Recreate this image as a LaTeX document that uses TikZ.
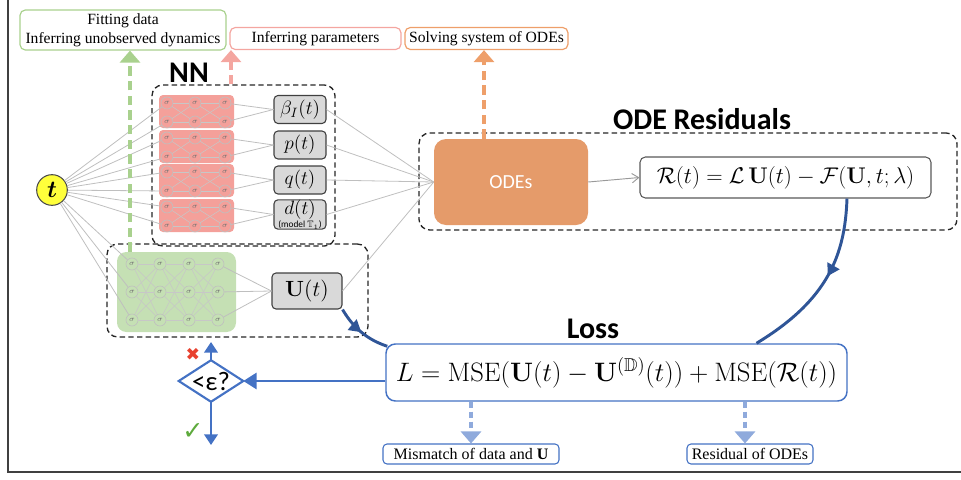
\RequirePackage{fix-cm}
\documentclass[tikz,border=0pt]{standalone}
\usepackage{amsmath,amssymb}
\usepackage[no-math]{fontspec}
\setmainfont{Liberation Serif}
\newfontfamily\cali{Carlito}
\newfontfamily\djv{DejaVu Sans}
\usetikzlibrary{arrows.meta,decorations.markings,calc}
\definecolor{tgreen}{HTML}{A9D18E}
\definecolor{gfill}{HTML}{C5E0B4}
\definecolor{rfill}{HTML}{F4A09A}
\definecolor{tred}{HTML}{F4A6A0}
\definecolor{ofill}{HTML}{E59B6A}
\definecolor{tora}{HTML}{EE9F6A}
\definecolor{bl}{HTML}{4472C4}
\definecolor{dbl}{HTML}{2F5597}
\definecolor{lbl}{HTML}{8FAADC}
\definecolor{gbox}{HTML}{D9D9D9}
\definecolor{ylw}{HTML}{FFFF3B}
\definecolor{okgreen}{HTML}{5DAA3C}
\definecolor{nored}{HTML}{E8412F}
\begin{document}
\begin{tikzpicture}[x=0.75pt,y=-0.75pt,
  neur/.style={circle,draw=black!25,line width=0.45pt,minimum size=9pt,inner sep=0pt,text=black!55,font=\fontsize{5.5}{5.5}\selectfont},
  syn/.style={draw=black!22,line width=0.4pt},
  wire/.style={draw=black!25,line width=0.6pt},
  outbox/.style={draw=black!75,fill=gbox,rounded corners=3pt,line width=0.8pt,inner sep=0pt,minimum width=39pt,minimum height=21pt,font=\fontsize{14.5}{15}\selectfont},
  topbox/.style={rounded corners=4pt,line width=0.9pt,fill=white,inner sep=0pt,align=center,minimum height=16.5pt,font=\fontsize{11.7}{14}\selectfont},
  grp/.style={draw=black!85,dash pattern=on 4pt off 2.5pt,line width=1pt,rounded corners=8pt,inner sep=0pt},
  fatdash/.style={line width=3pt,dash pattern=on 7pt off 4pt},
  bigtip/.style={-{Triangle[width=15pt,length=9pt]}},
  ttl/.style={font=\cali\bfseries\fontsize{22.5}{24}\selectfont},
  bluearr/.style={draw=bl,line width=2.2pt,-{Triangle[width=10pt,length=8pt]}},
  curv/.style={draw=dbl,line width=2.2pt,postaction={decorate},decoration={markings,mark=at position #1 with {\arrow{Triangle[width=10pt,length=9pt]}}}},
  lbarr/.style={draw=lbl,line width=2.6pt,dash pattern=on 4.5pt off 3pt,-{Triangle[width=15pt,length=9pt]}},
  note/.style={draw=bl,line width=0.8pt,rounded corners=3pt,fill=white,inner sep=0pt,minimum height=15pt,font=\fontsize{12}{14}\selectfont}
]
\useasboundingbox (0,0) rectangle (961,479);
% frame
\draw[black!75,line width=1.5pt] (8,-2) -- (8,472) -- (963,472);

% top boxes
\node[topbox,draw=tgreen,minimum width=154.5pt,minimum height=30pt] (tg) at (123,30) {Fitting data\\Inferring unobserved dynamics};
\node[topbox,draw=tred,minimum width=128.25pt] (tr) at (315.5,38.5) {Inferring parameters};
\node[topbox,draw=tora,minimum width=122.25pt] (to) at (486.5,38.5) {Solving system of ODEs};

% group boxes
\node[grp,minimum width=137.25pt,minimum height=120.75pt] (nnbox) at (243.5,165.5) {};
\node[grp,minimum width=195.75pt,minimum height=69.75pt] (ubx) at (237.5,290.5) {};
\node[grp,minimum width=403.5pt,minimum height=72.75pt] (odebx) at (688,181.5) {};

% titles
\node[ttl] (nnlab) at (189,73) {NN};
\node[ttl] (odelab) at (702,119) {ODE Residuals};
\node[ttl] (losslab) at (593,329) {Loss};

% input t
\node[circle,draw=black!70,fill=ylw,line width=0.8pt,minimum size=23pt,inner sep=0pt,font=\fontsize{18}{18}\selectfont] (t) at (52,190) {$\boldsymbol{t}$};

% red networks
\foreach \k/\yt in {0/95,1/130,2/164,3/199}{
  \fill[rfill,rounded corners=3pt] (159,\yt) rectangle (234,\yt+33);
  \foreach \i/\xx in {1/167,2/195,3/225}{
    \node[neur] (r\k-\i-1) at (\xx,\yt+8) {$\sigma$};
    \node[neur] (r\k-\i-2) at (\xx,\yt+27) {$\sigma$};
  }
  \foreach \i/\j in {1/2,2/3}{
    \foreach \a in {1,2}{\foreach \b in {1,2}{
      \draw[syn] (r\k-\i-\a) -- (r\k-\j-\b);
    }}
  }
}

% green network
\node[fill=gfill,rounded corners=7pt,minimum width=89.25pt,minimum height=60pt,inner sep=0pt] (gblk) at (176.5,292) {};
\foreach \i/\xx in {1/132,2/160,3/189,4/218}{
  \foreach \a/\yy in {1/264,2/292,3/320}{
    \node[neur] (g-\i-\a) at (\xx,\yy) {$\sigma$};
  }
}
\foreach \i/\j in {1/2,2/3,3/4}{
  \foreach \a in {1,2,3}{\foreach \b in {1,2,3}{
    \draw[syn] (g-\i-\a) -- (g-\j-\b);
  }}
}

% output boxes
\node[outbox] (b0) at (300,109.5) {$\beta_I(t)$};
\node[outbox] (b1) at (300,145) {$p(t)$};
\node[outbox] (b2) at (300,180) {$q(t)$};
\node[outbox,minimum height=22pt,align=center] (b3) at (300,214.5) {$d(t)$\\[-5pt]{\cali\fontsize{7}{7}\selectfont(model $\mathbb{T}_1$)}};
\node[outbox,minimum width=52.5pt,minimum height=27pt,font=\fontsize{16.5}{17}\selectfont] (ub) at (307,291) {$\mathbf{U}(t)$};

% ODEs and residual
\node[fill=ofill,rounded corners=9pt,minimum width=115.5pt,minimum height=64.5pt,inner sep=0pt,text=white,font=\cali\fontsize{15}{16}\selectfont] (odes) at (511,182) {ODEs};
\node[draw=black!65,line width=0.8pt,rounded corners=4pt,fill=white,minimum width=218.25pt,minimum height=30.75pt,inner sep=0pt,font=\fontsize{17}{19}\selectfont] (rbox) at (785.5,177.5) {$\mathcal{R}(t)=\mathcal{L}\,\mathbf{U}(t)-\mathcal{F}(\mathbf{U},t;\lambda)$};

% wires from t
\foreach \k in {0,1,2,3}{
  \foreach \a in {1,2}{\draw[wire] (t) -- (r\k-1-\a);}
  \foreach \a in {1,2}{\draw[wire] (r\k-3-\a) -- (b\k.west);}
  \draw[wire] (b\k.east) -- (odes.west);
}
\foreach \a in {1,2,3}{
  \draw[wire] (t) -- (g-1-\a);
  \draw[wire] (g-4-\a) -- (ub.west);
}
\draw[wire] (ub.east) -- (odes.west);
\draw[draw=black!40,line width=0.7pt,-{Straight Barb[length=5pt,width=7pt]}] (odes.east) -- (rbox.west);

% dashed arrows to top boxes
\coordinate (gx) at (130,0);
\coordinate (rx) at (231,0);
\coordinate (ox) at (484,0);
\draw[fatdash,bigtip,tgreen] (gblk.north -| gx) -- (tg.south -| gx);
\draw[fatdash,bigtip,tred] (nnbox.north -| rx) -- (tr.south -| rx);
\draw[fatdash,bigtip,tora] (odes.north -| ox) -- (to.south -| ox);

% loss
\node[draw=bl,line width=1.1pt,rounded corners=7pt,fill=white,minimum width=345.75pt,minimum height=42.75pt,inner sep=0pt,font=\fontsize{20}{22}\selectfont] (loss) at (616.5,372.5) {$L=\mathrm{MSE}(\mathbf{U}(t)-\mathbf{U}^{(\mathbb{D})}(t))+\mathrm{MSE}(\mathcal{R}(t))$};

% curves
\draw[curv=0.5] (ub.south east) .. controls (350,322) and (362,338) .. ($(loss.north west)+(2,3)$);
\draw[curv=0.45] ($(rbox.south)+(61.5,0)$) .. controls (845,255) and (828,300) .. ($(loss.north)+(140,0)$);

% decision
\node[minimum width=48pt,minimum height=30.75pt,inner sep=0pt,font=\cali\fontsize{20}{20}\selectfont] (dia) at (211,381) {<ε?};
\draw[bl,line width=1.6pt,line join=miter] (dia.north) -- (dia.east) -- (dia.south) -- (dia.west) -- cycle;
\draw[bluearr,-{Triangle[width=12pt,length=10pt]}] (dia.east -| loss.west) -- (dia.east);
\coordinate (upend) at (211,342);
\coordinate (dnend) at (211,445);
\draw[bluearr] (dia.north) -- (upend);
\draw[bluearr] (dia.south) -- (dnend);
\node[text=nored,font=\djv\fontsize{13}{13}\selectfont] (nomark) at (193,354) {✖};
\node[text=okgreen,font=\djv\fontsize{19}{19}\selectfont] (okmark) at (193,432) {✓};

% bottom notes
\node[note,minimum width=132pt] (mm) at (471,454) {Mismatch of data and \textbf{U}};
\node[note,minimum width=94.5pt] (res) at (750,454) {Residual of ODEs};
\coordinate (rx2) at (745,0);
\draw[lbarr] (mm.north |- loss.south) -- (mm.north);
\draw[lbarr] (loss.south -| rx2) -- (res.north -| rx2);
\end{tikzpicture}
\end{document}
